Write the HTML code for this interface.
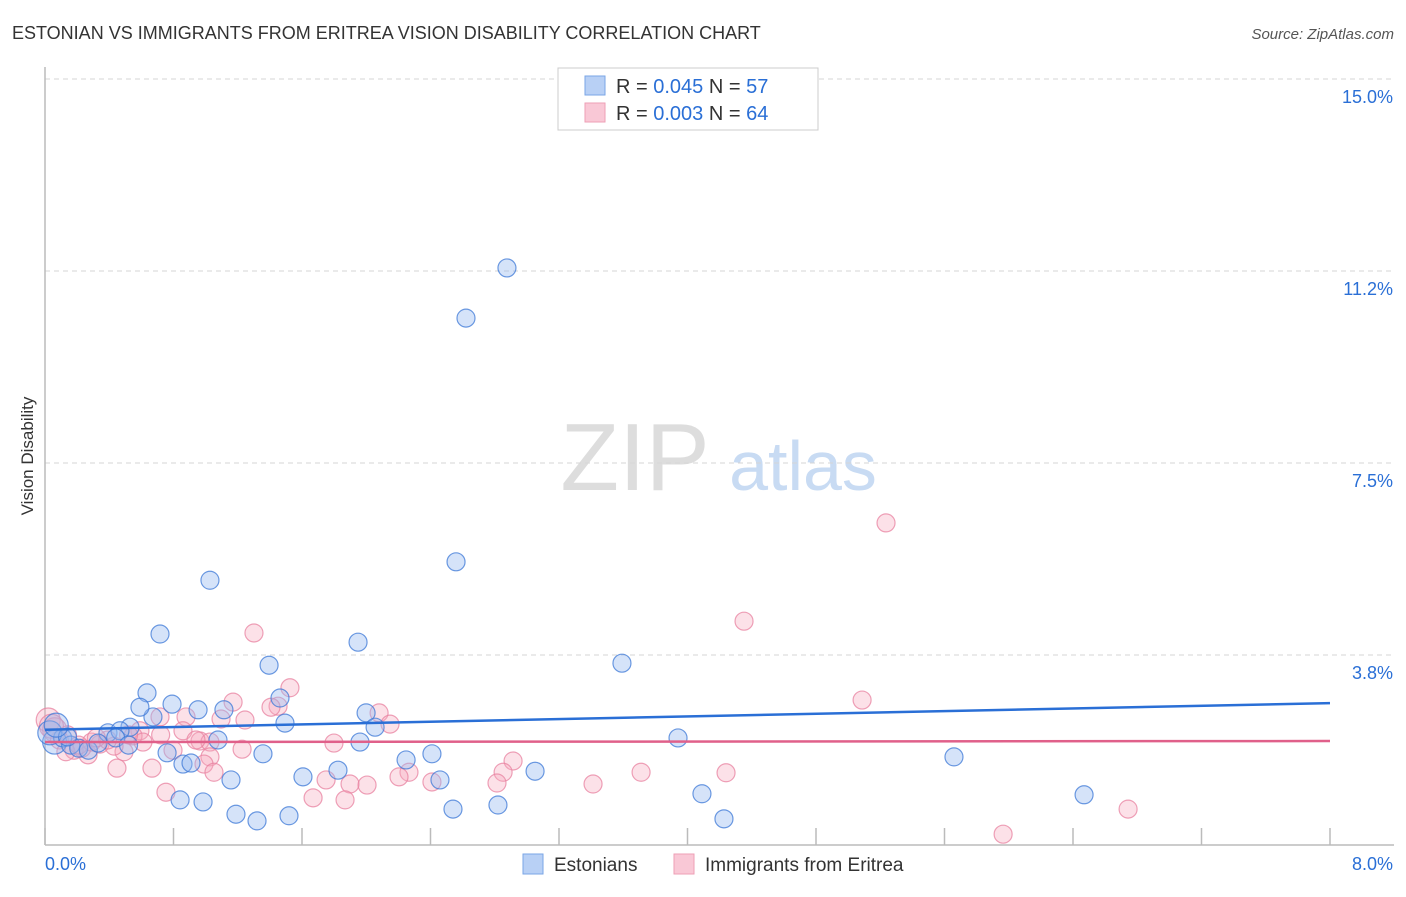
<!DOCTYPE html>
<html><head><meta charset="utf-8"><style>
body{margin:0;background:#fff;font-family:"Liberation Sans",sans-serif;}
svg text{font-family:"Liberation Sans",sans-serif;}
</style></head><body>
<svg id="chart" width="1406" height="892" xmlns="http://www.w3.org/2000/svg">
<text x="12" y="39" font-size="18" fill="#333">ESTONIAN VS IMMIGRANTS FROM ERITREA VISION DISABILITY CORRELATION CHART</text>
<text x="1394" y="39" font-size="15" fill="#555" text-anchor="end" font-style="italic">Source: ZipAtlas.com</text>
<text transform="translate(33,456) rotate(-90)" font-size="17" fill="#333" text-anchor="middle">Vision Disability</text>
<g>
<text x="635" y="490" font-size="96" fill="#ddd" font-family="Liberation Serif,serif" text-anchor="middle">ZIP</text>
<text x="803" y="490" font-size="70" fill="#c8dbf3" text-anchor="middle">atlas</text>
</g>
<g id="grid"></g>
<g id="axes"></g>
<g id="pts"></g>
<g id="trend"></g>
<g>
<rect x="558" y="68" width="260" height="62" fill="#fff" stroke="#ccc"/>
<rect x="585" y="76" width="20" height="19" fill="#b8d0f5" stroke="#7aa6e6"/>
<rect x="585" y="103" width="20" height="19" fill="#f9c8d6" stroke="#ee9fb6"/>
<text x="616" y="93" font-size="20" fill="#333">R = <tspan fill="#2a6fd6">0.045</tspan>   N = <tspan fill="#2a6fd6">57</tspan></text>
<text x="616" y="120" font-size="20" fill="#333">R = <tspan fill="#2a6fd6">0.003</tspan>   N = <tspan fill="#2a6fd6">64</tspan></text>
</g>
<g>
<rect x="523" y="854" width="20" height="20" fill="#b8d0f5" stroke="#7aa6e6"/>
<text x="554" y="871" font-size="19" fill="#333">Estonians</text>
<rect x="674" y="854" width="20" height="20" fill="#f9c8d6" stroke="#ee9fb6"/>
<text x="705" y="871" font-size="19" fill="#333">Immigrants from Eritrea</text>
</g>
</svg>
<script>
const yTicks=[15,11.25,7.5,3.75];
const yTickLabels=["15.0%","11.2%","7.5%","3.8%"];
const xTicks=[0,0.8,1.6,2.4,3.2,4.0,4.8,5.6,6.4,7.2,8.0];
const xEndLabels=["0.0%","8.0%"];
const blueX=[2.876,2.621,2.559,1.027,0.716,1.949,1.395,3.592,0.635,0.791,1.114,0.953,0.672,0.591,1.999,1.494,1.463,2.055,0.529,0.392,0.467,1.077,1.961,3.941,1.357,2.409,2.248,5.659,0.760,0.859,0.909,3.051,1.606,1.824,2.459,1.158,4.090,6.469,0.841,0.984,2.820,2.540,1.189,1.519,1.320,4.227,0.06,0.11,0.16,0.21,0.27,0.33,0.03,0.44,0.52,0.14,0.07];
const blueY=[11.31,10.33,5.57,5.21,4.16,4.00,3.55,3.59,3.01,2.79,2.68,2.68,2.54,2.73,2.62,2.42,2.91,2.34,2.34,2.23,2.27,2.09,2.05,2.13,1.82,1.82,1.70,1.76,1.84,1.62,1.64,1.48,1.37,1.50,1.31,1.31,1.04,1.02,0.92,0.88,0.82,0.74,0.64,0.61,0.51,0.55,2.05,2.13,1.99,1.93,1.89,2.03,2.23,2.13,1.99,2.15,2.38];
const pinkX=[5.236,4.352,1.301,1.525,1.171,5.087,1.451,1.407,1.096,1.245,0.878,0.716,2.080,2.148,0.859,0.591,0.548,0.965,1.027,1.799,1.227,0.797,0.492,1.027,0.268,0.181,0.342,0.430,0.990,0.666,0.448,2.914,1.052,3.711,4.240,2.266,2.204,2.852,2.409,2.814,3.412,1.899,1.750,2.005,0.753,1.669,1.868,6.743,5.965,0.02,0.06,0.09,0.14,0.23,0.29,0.39,0.04,0.13,0.21,0.32,0.61,0.72,0.94,0.52];
const pinkY=[6.33,4.41,4.18,3.11,2.83,2.87,2.75,2.73,2.50,2.48,2.54,2.54,2.62,2.40,2.27,2.27,2.17,2.07,2.05,2.03,1.91,1.89,1.86,1.76,1.80,1.89,2.01,1.97,1.62,1.54,1.54,1.68,1.46,1.46,1.45,1.46,1.37,1.46,1.27,1.25,1.23,1.23,1.31,1.21,1.07,0.96,0.92,0.74,0.25,2.48,2.29,2.09,2.19,1.93,2.05,2.09,2.36,1.86,1.99,2.13,2.05,2.19,2.09,2.19];
const blueTrend=[2.29,2.81];
const pinkTrend=[2.05,2.07];
const NS="http://www.w3.org/2000/svg";
const X0=45,X1=1330,XMAX=8,Y0=847,PPU=51.2;
function sx(v){return X0+(v/XMAX)*(X1-X0);}
function sy(v){return Y0-v*PPU;}
function mk(tag,attrs,parent){const e=document.createElementNS(NS,tag);for(const k in attrs)e.setAttribute(k,attrs[k]);parent.appendChild(e);return e;}
const grid=document.getElementById('grid'),axes=document.getElementById('axes'),pts=document.getElementById('pts'),trend=document.getElementById('trend');
yTicks.forEach((v,i)=>{
 const l=mk('line',{x1:45,x2:1394,y1:sy(v),y2:sy(v),stroke:'#d6d6d6','stroke-dasharray':'5,4'},grid);
 
 
 const t=mk('text',{x:1393,y:sy(v)+24,'font-size':18,fill:'#2a6fd6','text-anchor':'end'},grid);
 t.textContent=yTickLabels[i];
 
 
});
const ya=mk('line',{x1:45,x2:45,y1:67,y2:845,stroke:'#bbb','stroke-width':1.5},axes);


const xa=mk('line',{x1:45,x2:1394,y1:845,y2:845,stroke:'#bbb','stroke-width':1.5},axes);


xTicks.forEach(v=>{
 const t=mk('line',{x1:sx(v),x2:sx(v),y1:828,y2:845,stroke:'#bbb','stroke-width':1.5},axes);
 
 
});
const xl0=mk('text',{x:45,y:870,'font-size':18,fill:'#2a6fd6'},axes);xl0.textContent=xEndLabels[0];


const xl1=mk('text',{x:1393,y:870,'font-size':18,fill:'#2a6fd6','text-anchor':'end'},axes);xl1.textContent=xEndLabels[1];


function plot(xs,ys,fill,stroke,name){
 xs.forEach((v,i)=>{
  const c=mk('circle',{cx:sx(v),cy:sy(ys[i]),r:(v<0.08?12:9),fill:fill,stroke:stroke,'stroke-width':1.2},pts);
  
  
 });
}
plot(pinkX,pinkY,'rgba(246,168,190,0.35)','rgba(232,130,160,0.75)','eritrea-point');
plot(blueX,blueY,'rgba(150,185,240,0.4)','rgba(60,120,215,0.75)','estonian-point');
const bt=mk('line',{x1:sx(0),x2:sx(8),y1:sy(blueTrend[0]),y2:sy(blueTrend[1]),stroke:'#2a6fd6','stroke-width':2.5},trend);


const pt=mk('line',{x1:sx(0),x2:sx(8),y1:sy(pinkTrend[0]),y2:sy(pinkTrend[1]),stroke:'#e0608a','stroke-width':2.5},trend);


</script>
</body></html>
